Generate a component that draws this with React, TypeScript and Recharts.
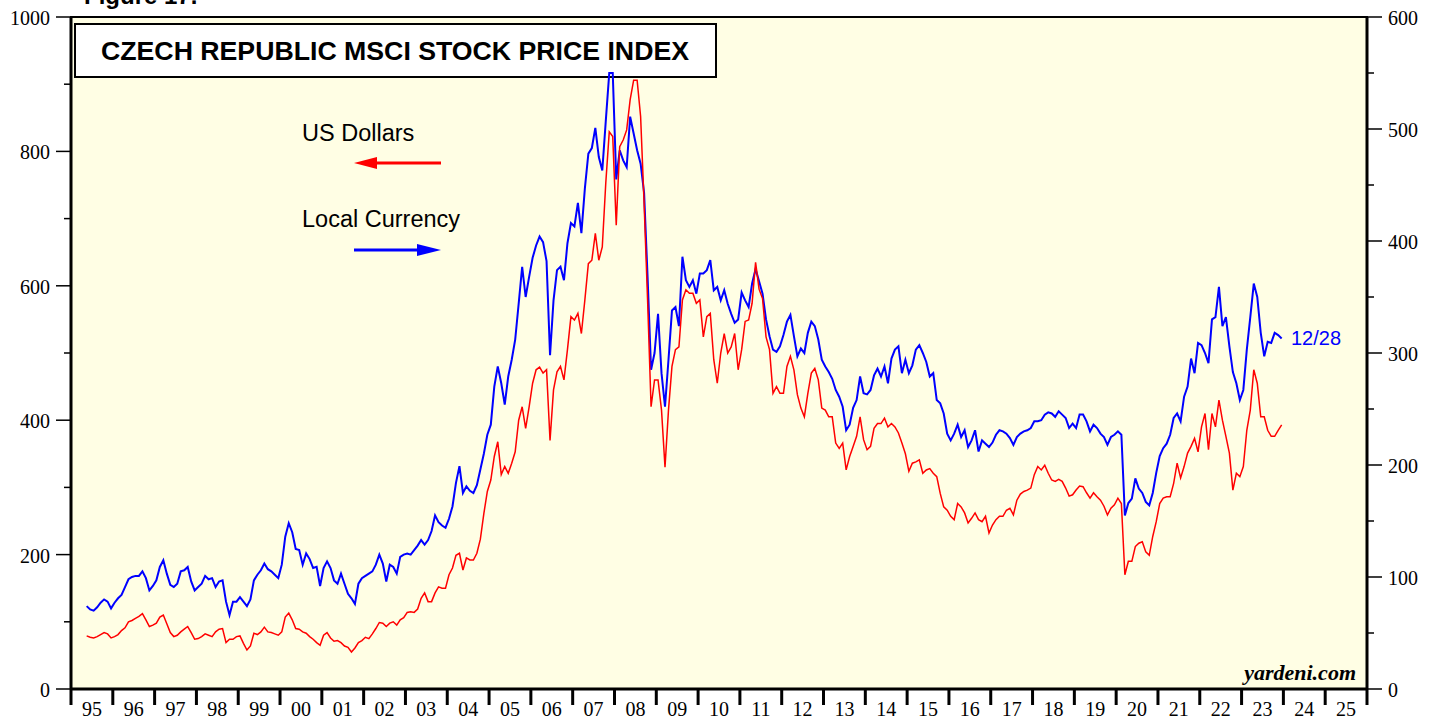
import { Line, LineChart, XAxis, YAxis } from 'recharts';

// monthly readings, May 1995 .. Dec 2023
const START_YEAR = 1995;
const START_MONTH = 5;

// Local currency (right axis)
const localCurrency = [
  74, 71, 70, 73, 77, 80, 78, 72, // 1995
  77, 81, 84, 91, 98, 100, 101, 101, 105, 99, 88, 92,
  97, 109, 115, 103, 93, 91, 94, 105, 106, 109, 96, 88,
  91, 94, 101, 98, 99, 91, 96, 97, 78, 66, 78, 78,
  82, 78, 74, 80, 97, 102, 106, 112, 107, 105, 102, 99,
  111, 136, 148, 140, 125, 124, 111, 121, 116, 108, 109, 92, // 2000
  108, 114, 108, 97, 94, 103, 94, 85, 81, 76, 94, 99,
  101, 103, 105, 111, 120, 112, 96, 111, 109, 103, 118, 120,
  121, 120, 124, 128, 133, 129, 133, 141, 155, 149, 146, 144,
  152, 163, 184, 199, 175, 181, 177, 175, 182, 196, 210, 227,
  236, 270, 288, 273, 254, 279, 294, 312, 344, 377, 350, 368, // 2005
  385, 396, 404, 399, 382, 298, 347, 374, 377, 365, 398, 416,
  413, 434, 407, 447, 478, 483, 501, 475, 463, 507, 550, 550,
  455, 481, 472, 466, 511, 496, 481, 469, 443, 368, 285, 300,
  335, 282, 252, 294, 338, 341, 324, 386, 365, 359, 365, 353,
  371, 371, 374, 383, 356, 359, 347, 356, 344, 335, 327, 330, // 2010
  354, 347, 341, 362, 375, 364, 353, 330, 315, 303, 301, 306,
  316, 328, 334, 315, 297, 304, 300, 318, 328, 324, 312, 294,
  288, 283, 277, 267, 261, 252, 231, 236, 251, 258, 279, 264,
  263, 267, 280, 286, 279, 288, 273, 295, 303, 306, 282, 294,
  282, 289, 303, 307, 300, 292, 279, 282, 258, 255, 246, 228, // 2015
  222, 228, 236, 225, 231, 216, 222, 231, 212, 222, 219, 216,
  220, 227, 231, 230, 228, 224, 218, 225, 228, 230, 231, 233,
  239, 239, 240, 245, 247, 246, 243, 248, 245, 242, 233, 237,
  233, 245, 245, 239, 230, 236, 233, 228, 225, 218, 225, 227,
  230, 227, 155, 166, 170, 188, 179, 175, 167, 164, 175, 193, // 2020
  208, 215, 219, 227, 242, 246, 239, 261, 270, 295, 282, 309,
  307, 300, 291, 330, 332, 359, 324, 332, 306, 283, 273, 258,
  267, 303, 332, 362, 350, 318, 297, 310, 309, 318, 316, 313,
];

// US dollars (left axis)
const usDollars = [
  79, 77, 76, 78, 81, 84, 82, 76, // 1995
  78, 81, 87, 91, 100, 102, 105, 108, 112, 103, 93, 95,
  98, 107, 110, 97, 84, 78, 80, 85, 89, 93, 84, 74,
  75, 78, 82, 80, 78, 85, 89, 90, 69, 74, 74, 78,
  79, 68, 58, 64, 83, 81, 85, 92, 85, 84, 82, 80,
  85, 107, 113, 103, 90, 89, 85, 83, 78, 74, 69, 65, // 2000
  80, 84, 76, 71, 72, 69, 64, 62, 55, 61, 69, 72,
  77, 75, 82, 90, 99, 98, 93, 98, 100, 95, 103, 106,
  114, 115, 114, 119, 135, 143, 130, 130, 143, 152, 150, 150,
  170, 180, 199, 202, 177, 195, 192, 192, 202, 223, 261, 294,
  311, 346, 368, 319, 331, 321, 336, 353, 400, 420, 388, 420, // 2005
  455, 475, 479, 470, 475, 370, 445, 472, 480, 460, 505, 554,
  549, 559, 529, 579, 633, 638, 678, 638, 658, 753, 829, 822,
  690, 807, 817, 832, 877, 906, 906, 852, 723, 579, 420, 460,
  460, 415, 330, 415, 480, 505, 509, 579, 594, 589, 589, 574,
  579, 524, 554, 559, 490, 455, 500, 529, 500, 509, 529, 475, // 2010
  505, 547, 549, 574, 635, 595, 581, 524, 505, 440, 450, 440,
  440, 480, 495, 475, 438, 418, 405, 440, 470, 477, 460, 418,
  415, 405, 405, 366, 358, 366, 326, 346, 361, 376, 405, 371,
  356, 361, 388, 395, 395, 403, 390, 395, 390, 381, 366, 350,
  324, 336, 338, 341, 321, 326, 328, 321, 316, 291, 271, 266, // 2015
  257, 252, 276, 271, 262, 247, 254, 262, 252, 249, 257, 232,
  244, 252, 257, 257, 266, 269, 259, 281, 290, 294, 296, 299,
  319, 331, 326, 333, 321, 311, 309, 312, 309, 299, 287, 289,
  296, 302, 301, 292, 284, 292, 286, 281, 272, 259, 269, 274,
  284, 276, 170, 190, 190, 212, 217, 219, 204, 199, 227, 249, // 2020
  276, 284, 286, 286, 306, 336, 314, 331, 351, 361, 373, 353,
  390, 410, 356, 410, 390, 430, 400, 376, 351, 296, 321, 316,
  331, 385, 415, 475, 455, 405, 405, 385, 376, 376, 385, 393,
];

const yearTicks = Array.from({ length: 32 }, (_, i) => 1995 + i);
const leftTicks = [0, 100, 200, 300, 400, 500, 600, 700, 800, 900, 1000];
const rightTicks = [0, 50, 100, 150, 200, 250, 300, 350, 400, 450, 500, 550, 600];

const data = localCurrency.map((v, i) => {
  const m = START_MONTH - 1 + i;
  return {
    t: START_YEAR + Math.floor(m / 12) + ((m % 12) + 0.5) / 12,
    local: v,
    usd: usDollars[i],
  };
});

const W = 1437;
const H = 721;
const PLOT = { left: 71, right: 1367, top: 17, bottom: 689 };
const YEAR_PX = (PLOT.right - PLOT.left) / 31;

const SERIF = '"Liberation Serif", "Times New Roman", serif';
const SANS = '"Liberation Sans", Arial, sans-serif';

interface TickProps {
  x?: number;
  y?: number;
  payload?: { value: number };
}

function LeftTick({ x = 0, y = 0, payload }: TickProps) {
  const v = payload?.value ?? 0;
  const major = v % 200 === 0;
  return (
    <g>
      <line x1={x - (major ? 15 : 7)} x2={x} y1={y} y2={y} stroke="#000" strokeWidth={1.5} />
      {major && (
        <text x={x - 21} y={y + 8} textAnchor="end" fontSize={20} fontFamily={SERIF} fill="#000">
          {v}
        </text>
      )}
    </g>
  );
}

function RightTick({ x = 0, y = 0, payload }: TickProps) {
  const v = payload?.value ?? 0;
  const major = v % 100 === 0;
  return (
    <g>
      <line x1={x} x2={x + (major ? 15 : 7)} y1={y} y2={y} stroke="#000" strokeWidth={1.5} />
      {major && (
        <text x={x + 21} y={y + 8} textAnchor="start" fontSize={20} fontFamily={SERIF} fill="#000">
          {v}
        </text>
      )}
    </g>
  );
}

function YearTick({ x = 0, y = 0, payload }: TickProps) {
  const yr = payload?.value ?? 0;
  return (
    <g>
      <line x1={x} x2={x} y1={y} y2={y + 16} stroke="#000" strokeWidth={3} />
      {yr < 2026 && (
        <text x={x + YEAR_PX / 2} y={y + 27} textAnchor="middle" fontSize={20} fontFamily={SERIF} fill="#000">
          {String(yr % 100).padStart(2, '0')}
        </text>
      )}
    </g>
  );
}

function Backdrop() {
  return (
    <svg width={W} height={H} style={{ position: 'absolute', left: 0, top: 0 }}>
      <text x={84} y={4} fontSize={24} fontWeight="bold" fontFamily={SANS} fill="#000">
        Figure 17.
      </text>
      <rect
        x={PLOT.left}
        y={PLOT.top}
        width={PLOT.right - PLOT.left}
        height={PLOT.bottom - PLOT.top}
        fill="#FFFEE4"
        stroke="#000"
        strokeWidth={2}
      />
      <rect x={75} y={24} width={641} height={53} fill="#fff" stroke="#000" strokeWidth={2} />
      <text
        x={101}
        y={60}
        fontSize={26}
        fontWeight="bold"
        fontFamily={SANS}
        fill="#000"
        textLength={588}
        lengthAdjust="spacingAndGlyphs"
      >
        CZECH REPUBLIC MSCI STOCK PRICE INDEX
      </text>

      <text x={302} y={141} fontSize={23.5} fontFamily={SANS} fill="#000">
        US Dollars
      </text>
      <line x1={374} x2={441} y1={163} y2={163} stroke="#f00" strokeWidth={3} />
      <polygon points="354,163 377,157 377,169" fill="#f00" />

      <text x={302} y={227} fontSize={23.5} fontFamily={SANS} fill="#000">
        Local Currency
      </text>
      <line x1={354} x2={420} y1={250} y2={250} stroke="#00f" strokeWidth={3} />
      <polygon points="441,250 417,244 417,256" fill="#00f" />

      <text x={1291} y={345} fontSize={20} fontFamily={SANS} fill="#00f">
        12/28
      </text>
      <text
        x={1356}
        y={680}
        textAnchor="end"
        fontSize={22}
        fontWeight="bold"
        fontStyle="italic"
        fontFamily={SERIF}
        fill="#000"
      >
        yardeni.com
      </text>
    </svg>
  );
}

export default function App() {
  return (
    <div style={{ position: 'absolute', left: 0, top: 0, width: W, height: H, background: '#fff' }}>
      <Backdrop />
      <div style={{ position: 'absolute', left: 0, top: 0 }}>
        <LineChart width={W} height={H} data={data} margin={{ top: PLOT.top, right: 0, bottom: 0, left: 0 }}>
          <XAxis
            dataKey="t"
            type="number"
            domain={[1995, 2026]}
            ticks={yearTicks}
            interval={0}
            height={H - PLOT.bottom}
            tickSize={0}
            tickMargin={0}
            tickLine={false}
            axisLine={{ stroke: '#000', strokeWidth: 3 }}
            tick={<YearTick />}
          />
          <YAxis
            yAxisId="left"
            domain={[0, 1000]}
            ticks={leftTicks}
            interval={0}
            width={PLOT.left}
            tickSize={0}
            tickMargin={0}
            tickLine={false}
            axisLine={{ stroke: '#000', strokeWidth: 3 }}
            tick={<LeftTick />}
          />
          <YAxis
            yAxisId="right"
            orientation="right"
            domain={[0, 600]}
            ticks={rightTicks}
            interval={0}
            width={W - PLOT.right}
            tickSize={0}
            tickMargin={0}
            tickLine={false}
            axisLine={{ stroke: '#000', strokeWidth: 3 }}
            tick={<RightTick />}
          />
          <Line
            yAxisId="right"
            type="linear"
            dataKey="local"
            stroke="#0000ff"
            strokeWidth={2}
            dot={false}
            isAnimationActive={false}
          />
          <Line
            yAxisId="left"
            type="linear"
            dataKey="usd"
            stroke="#ff0000"
            strokeWidth={1.5}
            dot={false}
            isAnimationActive={false}
          />
        </LineChart>
      </div>
    </div>
  );
}
